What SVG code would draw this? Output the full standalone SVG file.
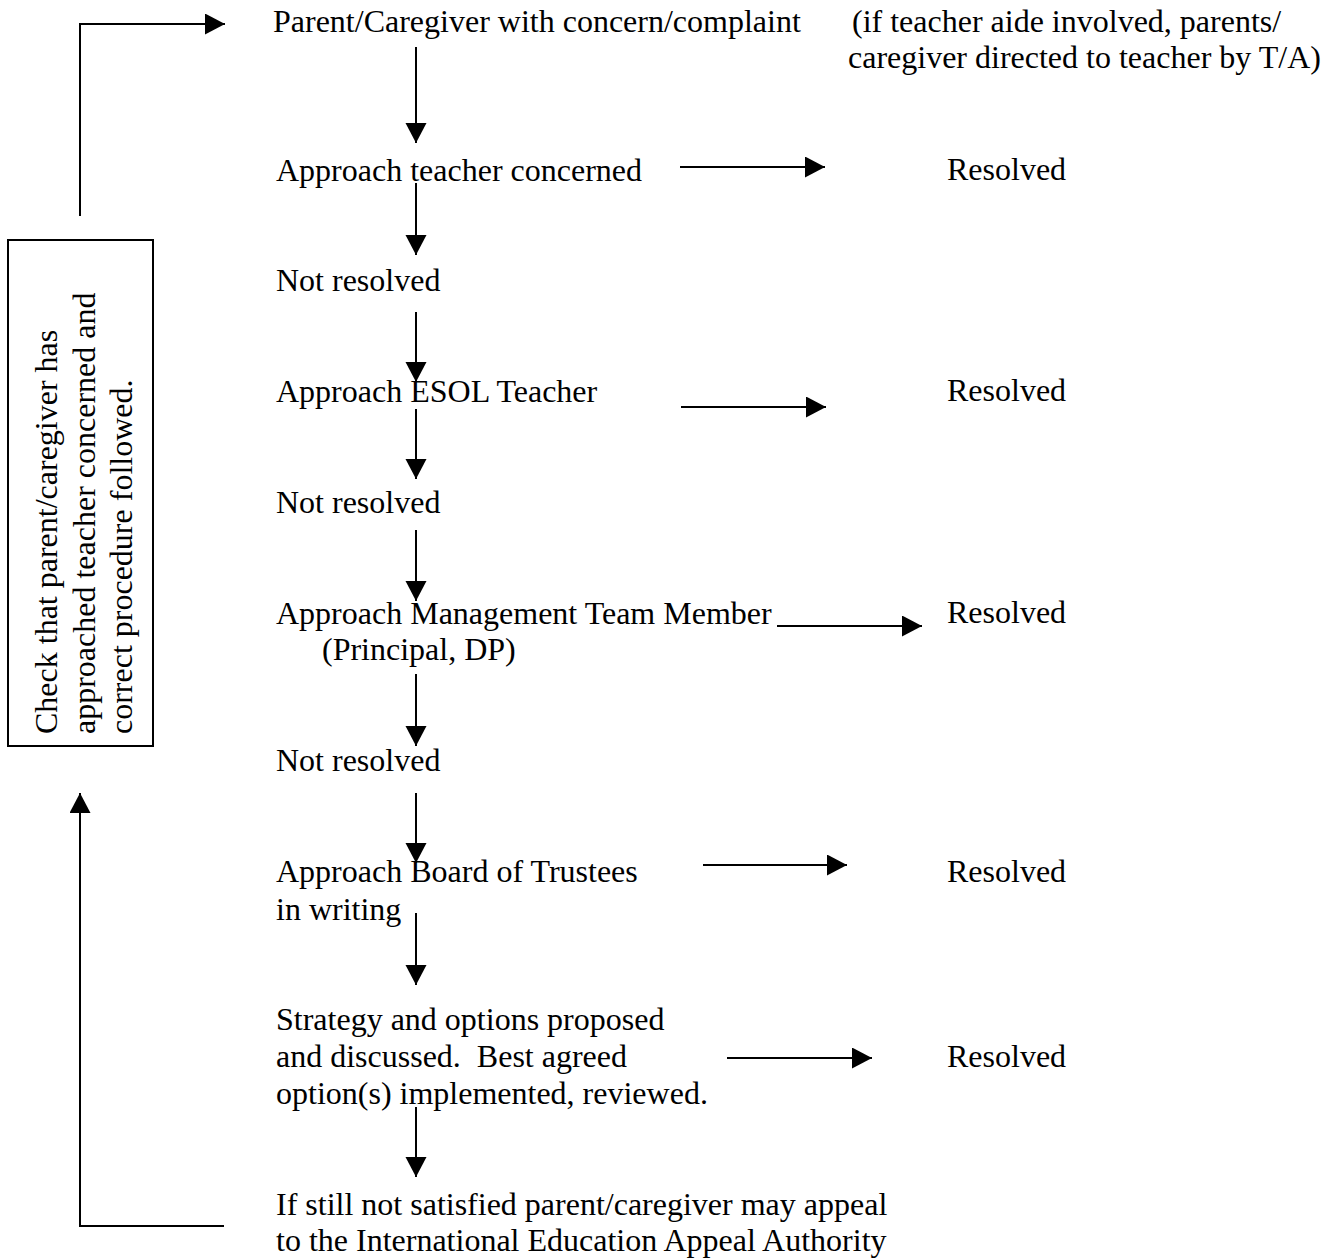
<svg xmlns="http://www.w3.org/2000/svg" width="1332" height="1258" viewBox="0 0 1332 1258">
<style>
text{font-family:"Liberation Serif","Times New Roman",serif;font-size:32px;fill:#000;}
.c{stroke:#000;stroke-width:2;fill:none;}
.a{marker-end:url(#ah);}
.box{fill:none;stroke:#000;stroke-width:2;}
</style>
<defs>
<marker id="ah" markerUnits="userSpaceOnUse" markerWidth="21" markerHeight="22" refX="20" refY="10.5" orient="auto">
<path d="M0,0 L20,10.5 L0,21 Z" fill="#000"/>
</marker>
</defs>
<rect width="1332" height="1258" fill="#fff"/>

<g id="connectors">
<polyline class="c a" points="80,216 80,24 225,24"/>
<polyline class="c a" points="224,1226 80,1226 80,793"/>
<line class="c a" x1="416" y1="47" x2="416" y2="143"/>
<line class="c a" x1="416" y1="183" x2="416" y2="255"/>
<line class="c a" x1="416" y1="312" x2="416" y2="382"/>
<line class="c a" x1="416" y1="409" x2="416" y2="479"/>
<line class="c a" x1="416" y1="530" x2="416" y2="601"/>
<line class="c a" x1="416" y1="674" x2="416" y2="746"/>
<line class="c a" x1="416" y1="793" x2="416" y2="863"/>
<line class="c a" x1="416" y1="913" x2="416" y2="985"/>
<line class="c a" x1="416" y1="1107" x2="416" y2="1177"/>
<line class="c a" x1="680" y1="167" x2="825" y2="167"/>
<line class="c a" x1="681" y1="407" x2="826" y2="407"/>
<line class="c a" x1="777" y1="626" x2="922" y2="626"/>
<line class="c a" x1="703" y1="865" x2="847" y2="865"/>
<line class="c a" x1="727" y1="1058" x2="872" y2="1058"/>
</g>

<g id="check-box">
<rect class="box" x="8" y="240" width="145" height="506"/>
<text transform="translate(57,734) rotate(-90)">Check that parent/caregiver has</text>
<text transform="translate(94.5,734) rotate(-90)">approached teacher concerned and</text>
<text transform="translate(132,734) rotate(-90)">correct procedure followed.</text>
</g>

<g id="parent"><text x="273" y="32">Parent/Caregiver with concern/complaint</text></g>
<g id="note"><text x="852" y="32">(if teacher aide involved, parents/</text><text x="848" y="68">caregiver directed to teacher by T/A)</text></g>

<g id="approach-teacher"><text x="276" y="181">Approach teacher concerned</text></g>
<g id="resolved-1"><text x="947" y="180">Resolved</text></g>
<g id="not-resolved-1"><text x="276" y="291">Not resolved</text></g>

<g id="approach-esol"><text x="276" y="402">Approach ESOL Teacher</text></g>
<g id="resolved-2"><text x="947" y="401">Resolved</text></g>
<g id="not-resolved-2"><text x="276" y="513">Not resolved</text></g>

<g id="approach-management"><text x="276" y="624">Approach Management Team Member</text><text x="322" y="660">(Principal, DP)</text></g>
<g id="resolved-3"><text x="947" y="623">Resolved</text></g>
<g id="not-resolved-3"><text x="276" y="771">Not resolved</text></g>

<g id="approach-board"><text x="276" y="882">Approach Board of Trustees</text><text x="276" y="920">in writing</text></g>
<g id="resolved-4"><text x="947" y="882">Resolved</text></g>

<g id="strategy"><text x="276" y="1030">Strategy and options proposed</text><text x="276" y="1067" xml:space="preserve">and discussed.  Best agreed</text><text x="276" y="1104">option(s) implemented, reviewed.</text></g>
<g id="resolved-5"><text x="947" y="1067">Resolved</text></g>

<g id="appeal"><text x="276" y="1215">If still not satisfied parent/caregiver may appeal</text><text x="276" y="1251">to the International Education Appeal Authority</text></g>
</svg>
